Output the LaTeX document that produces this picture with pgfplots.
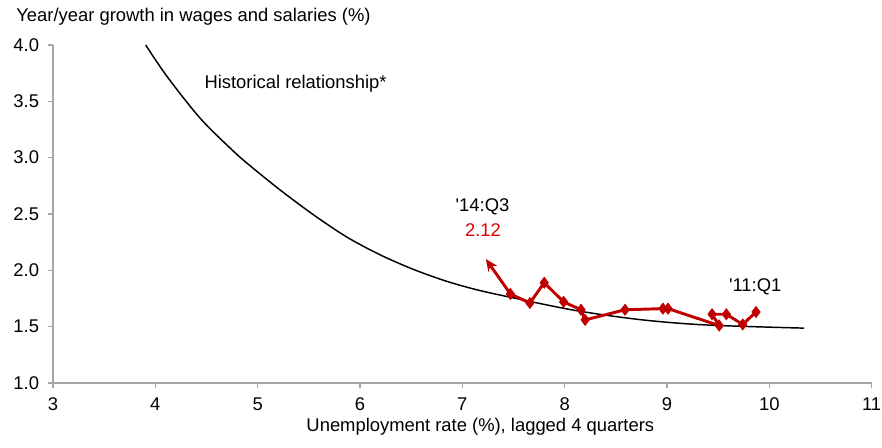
\documentclass[border=0pt]{standalone}
\usepackage{fontspec}
\setmainfont{Liberation Sans}
\usepackage{pgfplots}
\pgfplotsset{compat=1.18}
\usetikzlibrary{arrows.meta}
\definecolor{ser}{RGB}{192,0,0}
\definecolor{lab}{RGB}{224,0,0}
\definecolor{ax}{RGB}{166,166,166}
\newcommand{\fs}{\fontsize{13.8}{16}\selectfont}
\begin{document}
\begin{tikzpicture}
\begin{axis}[
  scale only axis,
  width=614pt, height=253.5pt,
  xmin=3, xmax=11, ymin=1, ymax=4,
  xtick={3,4,...,11}, ytick={1,1.5,...,4},
  axis x line*=bottom, axis y line*=left,
  axis line style={ax, line width=0.8pt, -},
  tick style={ax, line width=0.8pt},
  tick align=outside, major tick length=3.75pt,
  /pgf/number format/assume math mode=true,
  ticklabel style={font=\fs, text=black, inner sep=2pt},
  yticklabel style={/pgf/number format/fixed, /pgf/number format/fixed zerofill, /pgf/number format/precision=1, xshift=-4.5pt},
  xticklabel style={yshift=-5pt},
  clip=false,
]
\addplot[black, line width=1.1pt, smooth] coordinates {
(3.906,4.000) (4.115,3.720) (4.438,3.350) (4.760,3.060) (4.937,2.920)
(5.224,2.710) (5.550,2.490) (5.872,2.295) (6.191,2.140) (6.517,2.010)
(6.839,1.905) (7.130,1.830) (7.449,1.765) (8.097,1.645) (8.742,1.562)
(9.383,1.515) (10.34,1.487)
};
\addplot[ser, line width=2.2pt, mark=diamond*, mark size=4.2pt,
  mark options={solid, fill=ser, line width=0.5pt},
  mark indices={1,2,3,4,5,6,7,8,9,10,11,12,13,14},
  -{Stealth[length=9pt, width=8pt]}] coordinates {
(9.87,1.63) (9.74,1.52) (9.58,1.61) (9.44,1.61) (9.51,1.51)
(9.01,1.66) (8.96,1.66) (8.59,1.65) (8.20,1.56) (8.16,1.65)
(7.99,1.72) (7.80,1.89) (7.66,1.71) (7.47,1.79) (7.23,2.10)
};
\node[font=\fs, anchor=base] at (axis cs:5.37,3.618) {Historical relationship*};
\node[font=\fs, anchor=base] at (axis cs:7.197,2.526) {\textquotesingle14:Q3};
\node[font=\fs, anchor=base, text=lab] at (axis cs:7.202,2.30) {2.12};
\node[font=\fs, anchor=base] at (axis cs:9.862,1.81) {\textquotesingle11:Q1};
\node[font=\fs, anchor=base west] at ([xshift=-31pt, yshift=17.25pt]rel axis cs:0,1) {Year/year growth in wages and salaries (\%)};
\node[font=\fs, anchor=base] at ([yshift=-36.5pt]rel axis cs:0.522,0) {Unemployment rate (\%), lagged 4 quarters};
\coordinate (ll) at (rel axis cs:0,0);
\coordinate (ur) at (rel axis cs:1,1);
\end{axis}
\pgfresetboundingbox
\path ([shift={(-39.75pt,-48.75pt)}]ll) rectangle ([shift={(7.75pt,33.75pt)}]ur);
\end{tikzpicture}
\end{document}
